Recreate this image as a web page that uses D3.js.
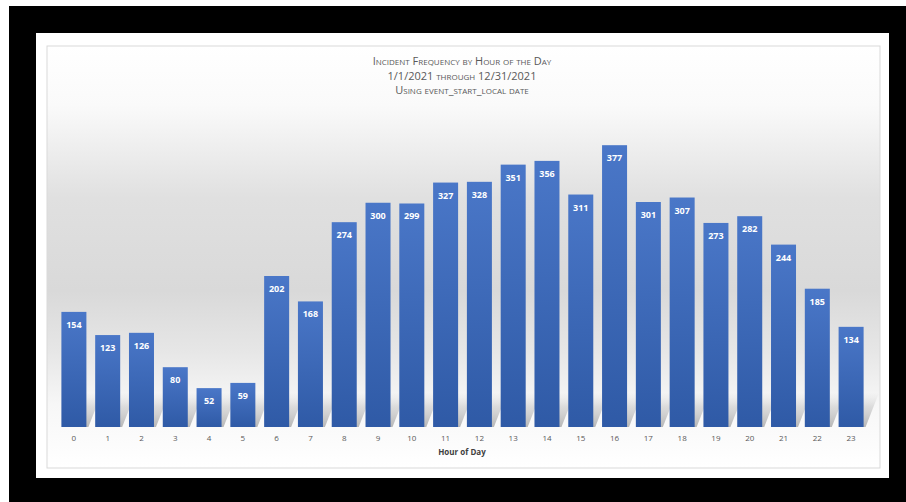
<!DOCTYPE html>
<html>
<head>
<meta charset="utf-8">
<script src="https://cdn.jsdelivr.net/npm/d3@7"></script>
<style>
  html, body { margin: 0; padding: 0; background: #fff; }
  svg { display: block; }
</style>
</head>
<body>
<svg id="chart" width="906" height="502"></svg>
<script>
// data
const hours = ['0','1','2','3','4','5','6','7','8','9','10','11','12','13','14','15','16','17','18','19','20','21','22','23'];
const counts = [154, 123, 126, 80, 52, 59, 202, 168, 274, 300, 299, 327, 328, 351, 356, 311, 377, 301, 307, 273, 282, 244, 185, 134];
const titleLines = ['Incident Frequency by Hour of the Day', '1/1/2021 through 12/31/2021', 'Using event_start_local date'];
const xTitle = 'Hour of Day';

const svg = d3.select('#chart');
const font = '"Open Sans", "Liberation Sans", sans-serif';

// black frame + white panel
svg.append('rect').attr('x', 9).attr('y', 6).attr('width', 897).attr('height', 496).attr('fill', '#000');
svg.append('rect').attr('x', 36).attr('y', 33).attr('width', 853).attr('height', 445).attr('fill', '#fff');

const defs = svg.append('defs');
// plot background gradient
let bg = defs.append('linearGradient').attr('id', 'bg').attr('x1', 0).attr('y1', 0).attr('x2', 0).attr('y2', 1);
[[0, '#ffffff'], [0.14, '#fafafa'], [0.36, '#e0e0e0'], [0.58, '#d9d9d9'], [0.72, '#e6e6e6'], [0.85, '#f7f7f7'], [1, '#ffffff']]
  .forEach(s => bg.append('stop').attr('offset', s[0]).attr('stop-color', s[1]));
// bar gradient
let bar = defs.append('linearGradient').attr('id', 'bar').attr('x1', 0).attr('y1', 0).attr('x2', 0).attr('y2', 1);
bar.append('stop').attr('offset', 0).attr('stop-color', '#4a77c8');
bar.append('stop').attr('offset', 1).attr('stop-color', '#2f5aa6');
// shadow gradient
let sh = defs.append('linearGradient').attr('id', 'shadow').attr('x1', 0).attr('y1', 1).attr('x2', 0).attr('y2', 0);
sh.append('stop').attr('offset', 0).attr('stop-color', '#8a8a8a').attr('stop-opacity', 0.6);
sh.append('stop').attr('offset', 0.6).attr('stop-color', '#a8a8a8').attr('stop-opacity', 0.35);
sh.append('stop').attr('offset', 1).attr('stop-color', '#bdbdbd').attr('stop-opacity', 0);

svg.append('rect').attr('x', 47).attr('y', 46).attr('width', 833).attr('height', 422)
  .attr('fill', 'url(#bg)').attr('stroke', '#d9d9d9').attr('stroke-width', 1);

// title
const title = svg.append('text').attr('x', 462).attr('text-anchor', 'middle')
  .style('font-family', font).style('fill', '#595959');
title.append('tspan').attr('x', 462).attr('y', 65).style('font-size', '11px').style('font-variant', 'small-caps').text(titleLines[0]);
title.append('tspan').attr('x', 462).attr('y', 80).style('font-size', '11px').style('font-variant', 'small-caps').text(titleLines[1]);
title.append('tspan').attr('x', 462).attr('y', 94).style('font-size', '11px').style('font-variant', 'small-caps').text(titleLines[2]);

// scales
const x = d3.scaleBand().domain(hours).range([57, 868]).paddingInner(0.26).paddingOuter(0.13);
const y = d3.scaleLinear().domain([0, 400]).range([427, 128]);

// bar shadows (slanted, behind the bars)
svg.append('g').selectAll('polygon')
  .data(counts)
  .enter()
  .append('polygon')
  .attr('fill', 'url(#shadow)')
  .attr('points', (d, i) => {
    const x0 = x(hours[i]), x1 = x0 + x.bandwidth();
    const h = Math.min(34, y(0) - y(d));
    const dx = h * 0.45;
    return [[x0 + 2, y(0)], [x1 + 2, y(0)], [x1 + dx, y(0) - h], [x0 + dx, y(0) - h]].join(' ');
  });

// bars
svg.append('g').selectAll('rect')
  .data(counts)
  .enter()
  .append('rect')
  .attr('x', (d, i) => x(hours[i]))
  .attr('y', d => y(d))
  .attr('width', x.bandwidth())
  .attr('height', d => y(0) - y(d))
  .attr('fill', 'url(#bar)');

// value labels
svg.append('g').selectAll('text')
  .data(counts)
  .enter()
  .append('text')
  .attr('x', (d, i) => x(hours[i]) + x.bandwidth() / 2)
  .attr('y', d => y(d) + 16)
  .attr('text-anchor', 'middle')
  .style('font-family', font)
  .style('font-size', '9px')
  .style('font-weight', 'bold')
  .style('fill', '#ffffff')
  .text(d => d);

// x axis
const xAxis = svg.append('g')
  .attr('transform', 'translate(0,' + y(0) + ')')
  .call(d3.axisBottom(x).tickSize(0).tickPadding(8));
xAxis.select('.domain').remove();
xAxis.selectAll('text').style('font-family', font).style('font-size', '8px').style('fill', '#595959');

svg.append('text')
  .attr('x', 462).attr('y', 455)
  .attr('text-anchor', 'middle')
  .style('font-family', font)
  .style('font-size', '8px')
  .style('font-weight', 'bold')
  .style('fill', '#404040')
  .text(xTitle);
</script>
</body>
</html>
